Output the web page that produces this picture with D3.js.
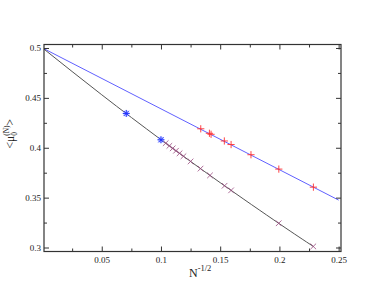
<!DOCTYPE html>
<html>
<head>
<meta charset="utf-8">
<script src="https://cdn.jsdelivr.net/npm/d3@7"></script>
<style>
  html, body { margin: 0; padding: 0; background: #fff; }
  svg { display: block; }
  text { font-family: "Liberation Serif", "DejaVu Serif", serif; fill: #222; }
</style>
</head>
<body>
<svg id="chart" width="385" height="298"></svg>
<script>
// ---- data ----
const xMajorTicks = [0.05, 0.1, 0.15, 0.2, 0.25];
const xTickLabels = ["0.05", "0.1", "0.15", "0.2", "0.25"];
const xMinorTicks = [0.025, 0.075, 0.125, 0.175, 0.225];
const yMajorTicks = [0.3, 0.35, 0.4, 0.45, 0.5];
const yTickLabels = ["0.3", "0.35", "0.4", "0.45", "0.5"];
const yMinorTicks = [0.325, 0.375, 0.425, 0.475];

// blue straight line (fit)
const blueLineX = [0, 0.25];
const blueLineY = [0.5, 0.3475];
// red "+" markers on the blue line
const plusX = [0.1336, 0.1409, 0.1423, 0.1535, 0.1592, 0.176, 0.1995, 0.2287];
const plusY = [0.419, 0.4145, 0.4135, 0.4068, 0.4032, 0.393, 0.3786, 0.3605];

// black curve (fit)
const blackCurveX = [0, 0.05, 0.1, 0.15, 0.2, 0.2287];
const blackCurveY = [0.5, 0.4531, 0.4081, 0.365, 0.3238, 0.301];
// maroon "x" markers on the black curve
const crossX = [0.104, 0.1071, 0.1099, 0.1127, 0.1157, 0.119, 0.125, 0.1334, 0.1414, 0.1537, 0.1592, 0.1994, 0.2286];
const crossY = [0.4046, 0.4019, 0.3994, 0.397, 0.3944, 0.3915, 0.3863, 0.3791, 0.3723, 0.3619, 0.3573, 0.3243, 0.3011];
// blue star markers
const starX = [0.0707, 0.1];
const starY = [0.4344, 0.408];

// ---- layout ----
const L = 44, R = 341, T = 44.5, B = 251.5;
const svg = d3.select("#chart");

const x = d3.scaleLinear().domain([0.00125, 0.252]).range([L, R]);
const y = d3.scaleLinear().domain([0.296, 0.5035]).range([B, T]);

svg.append("defs").append("clipPath").attr("id", "plotclip")
  .append("rect").attr("x", L).attr("y", T).attr("width", R - L).attr("height", B - T);

const plot = svg.append("g").attr("clip-path", "url(#plotclip)");

// lines
const lineGen = d3.line().x(d => x(d[0])).y(d => y(d[1]));
plot.append("path")
  .datum(d3.zip(blueLineX, blueLineY))
  .attr("d", lineGen)
  .attr("fill", "none").attr("stroke", "#6060ff").attr("stroke-width", 1);

plot.append("path")
  .datum(d3.zip(blackCurveX, blackCurveY))
  .attr("d", lineGen.curve(d3.curveNatural))
  .attr("fill", "none").attr("stroke", "#555").attr("stroke-width", 1);

// markers
const plusG = svg.append("g");
d3.zip(plusX, plusY).forEach(([a, b]) => {
  const cx = x(a), cy = y(b), s = 3.6;
  plusG.append("path")
    .attr("d", `M${cx - s},${cy}H${cx + s}M${cx},${cy - s}V${cy + s}`)
    .attr("stroke", "#ff3030").attr("stroke-width", 0.9).attr("fill", "none");
});

const crossG = svg.append("g");
d3.zip(crossX, crossY).forEach(([a, b]) => {
  const cx = x(a), cy = y(b), s = 2.8;
  crossG.append("path")
    .attr("d", `M${cx - s},${cy - s}L${cx + s},${cy + s}M${cx - s},${cy + s}L${cx + s},${cy - s}`)
    .attr("stroke", "#9a4a80").attr("stroke-width", 0.8).attr("fill", "none");
});

const starG = svg.append("g");
d3.zip(starX, starY).forEach(([a, b]) => {
  const cx = x(a), cy = y(b), s = 3.5;
  starG.append("circle").attr("cx", cx).attr("cy", cy).attr("r", 3.2)
    .attr("fill", "#b8c4ff").attr("opacity", 0.6);
  starG.append("path")
    .attr("d", `M${cx - s},${cy}H${cx + s}M${cx},${cy - s}V${cy + s}M${cx - 2.6},${cy - 2.6}L${cx + 2.6},${cy + 2.6}M${cx - 2.6},${cy + 2.6}L${cx + 2.6},${cy - 2.6}`)
    .attr("stroke", "#2030ff").attr("stroke-width", 1).attr("fill", "none");
});

// ---- axes ----
const axisColor = "#333";
function styleAxis(g) {
  g.select(".domain").remove();
  g.selectAll(".tick line").attr("stroke", axisColor);
  g.selectAll(".tick text").attr("font-size", 9).attr("fill", "#222")
    .attr("font-family", '"Liberation Serif", "DejaVu Serif", serif');
}

// bottom
svg.append("g").attr("transform", `translate(0,${B})`)
  .call(d3.axisBottom(x).tickValues(xMajorTicks).tickSize(-5).tickPadding(5)
    .tickFormat((d, i) => xTickLabels[i]))
  .call(styleAxis);
svg.append("g").attr("transform", `translate(0,${B})`)
  .call(d3.axisBottom(x).tickValues(xMinorTicks).tickSize(-3).tickFormat(""))
  .call(styleAxis);
// top
svg.append("g").attr("transform", `translate(0,${T})`)
  .call(d3.axisTop(x).tickValues(xMajorTicks).tickSize(-5).tickFormat(""))
  .call(styleAxis);
svg.append("g").attr("transform", `translate(0,${T})`)
  .call(d3.axisTop(x).tickValues(xMinorTicks).tickSize(-3).tickFormat(""))
  .call(styleAxis);
// left
svg.append("g").attr("transform", `translate(${L},0)`)
  .call(d3.axisLeft(y).tickValues(yMajorTicks).tickSize(-5).tickPadding(3)
    .tickFormat((d, i) => yTickLabels[i]))
  .call(styleAxis);
svg.append("g").attr("transform", `translate(${L},0)`)
  .call(d3.axisLeft(y).tickValues(yMinorTicks).tickSize(-3).tickFormat(""))
  .call(styleAxis);
// right
svg.append("g").attr("transform", `translate(${R},0)`)
  .call(d3.axisRight(y).tickValues(yMajorTicks).tickSize(-5).tickFormat(""))
  .call(styleAxis);
svg.append("g").attr("transform", `translate(${R},0)`)
  .call(d3.axisRight(y).tickValues(yMinorTicks).tickSize(-3).tickFormat(""))
  .call(styleAxis);

// frame
svg.append("rect").attr("x", L).attr("y", T).attr("width", R - L).attr("height", B - T)
  .attr("fill", "none").attr("stroke", axisColor).attr("stroke-width", 1.2);

// ---- axis titles ----
const xt = svg.append("text").attr("x", 189).attr("y", 277).attr("font-size", 12);
xt.append("tspan").text("N");
xt.append("tspan").attr("font-size", 8.5).attr("dy", -6).text("-1/2");

const yt = svg.append("text")
  .attr("transform", "translate(14,148.5) rotate(-90)")
  .attr("font-size", 11.5);
yt.append("tspan").text("<μ");
yt.append("tspan").attr("font-size", 7.5).attr("dy", 3).text("0");
yt.append("tspan").attr("font-size", 7.5).attr("dx", -3.75).attr("dy", -8).text("(N)");
yt.append("tspan").attr("dy", 5).text(">");
</script>
</body>
</html>
